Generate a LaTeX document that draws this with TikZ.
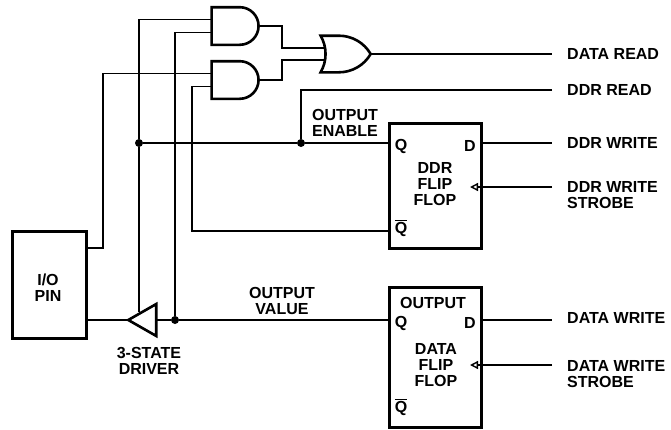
\documentclass[tikz,border=0pt]{standalone}
\usepackage{fontspec}
\setmainfont{Liberation Sans}[BoldFont={Liberation Sans Bold}]
\usetikzlibrary{arrows.meta,shapes.geometric,shapes.gates.logic.US}
\tikzset{
  wire/.style={line width=1.4pt, line join=miter},
  block/.style={draw, line width=3pt, rectangle, inner sep=0pt, outer sep=0pt},
  gate/.style={draw, line width=2.6pt, inner sep=0pt, outer sep=0pt, logic gate inputs=nn},
  dot/.style={circle, fill, inner sep=0pt, minimum size=8pt},
  txt/.style={font=\fontsize{16}{16}\selectfont\bfseries, align=center, inner sep=0pt},
  sig/.style={txt, align=left, anchor=west},
}
\begin{document}
\begin{tikzpicture}[x=1pt, y=-1pt]
  \useasboundingbox (0,0) rectangle (671,429);

  % Nodes
  \node[block, minimum width=74pt, minimum height=107pt] (pin) at (49,284.5) {};
  \node[txt] (pinlabel) at (48,288) {I/O\\PIN};
  \node[block, minimum width=92pt, minimum height=125pt] (ddrff) at (435,185.5) {};
  \node[block, minimum width=92pt, minimum height=140pt] (dataff) at (435,357) {};
  \node[gate, and gate US, minimum width=47pt, minimum height=34pt] (and1) at (233.5,26) {};
  \node[gate, and gate US, minimum width=47pt, minimum height=34pt] (and2) at (233.5,80) {};
  \node[gate, or gate US, minimum width=50pt, minimum height=34pt] (or1) at (342,54) {};
  \node[draw, line width=2.6pt, isosceles triangle, isosceles triangle stretches, shape border rotate=180,
    minimum width=32pt, minimum height=28pt, inner sep=0pt, outer sep=0pt] (driver) at (147,320) {};
  \node[dot] (dotA) at (139,143) {};
  \node[dot] (dotB) at (301,143) {};
  \node[dot] (dotC) at (175,320) {};

  % Labels
  \node[txt] (drvlabel) at (149,361) {3-STATE\\DRIVER};
  \node[txt] (enlabel) at (345,123) {OUTPUT\\ENABLE};
  \node[txt] (vallabel) at (282,301) {OUTPUT\\VALUE};
  \node[txt] (ddrname) at (435,184) {DDR\\FLIP\\FLOP};
  \node[txt] (dataname) at (436,365) {DATA\\FLIP\\FLOP};
  \node[txt] (outname) at (433,303) {OUTPUT};
  \node[txt] (ddrq) at (401,146) {Q};
  \node[txt] (ddrd) at (470,146) {D};
  \node[txt] (ddrqn) at (401,228) {$\overline{\mbox{Q}}$};
  \node[txt] (dataq) at (401,323) {Q};
  \node[txt] (datad) at (470,323) {D};
  \node[txt] (dataqn) at (401,407) {$\overline{\mbox{Q}}$};
  \node[sig] (dread) at (567,54) {DATA READ};
  \node[sig] (rread) at (567,90) {DDR READ};
  \node[sig] (rwrite) at (567,143) {DDR WRITE};
  \node[sig] (rstrobe) at (567,195) {DDR WRITE\\STROBE};
  \node[sig] (dwrite) at (567,318) {DATA WRITE};
  \node[sig] (dstrobe) at (567,374) {DATA WRITE\\STROBE};

  \coordinate (midA) at (282,54);
  \coordinate (railA) at (103,248);
  \coordinate (railB) at (192,231);
  \coordinate (railC) at (301,90);
  \coordinate (endR) at (552,0);
  \coordinate (enable) at (139,312);
  \coordinate (ddrclk) at (470,187);
  \coordinate (dataclk) at (470,365);

  % Edges
  \draw[wire] (and1.input 1) -| (dotA);
  \draw[wire] (and1.input 2) -| (dotC);
  \draw[wire] (and2.input 1) -| (railA) -- (pin.east |- railA);
  \draw[wire] (and2.input 2) -| (railB) -- (ddrff.west |- railB);
  \draw[wire] (and1.output) -| (midA |- or1.input 1) -- (or1.input 1);
  \draw[wire] (and2.output) -| (midA |- or1.input 2) -- (or1.input 2);
  \draw[wire] (or1.output) -- (endR |- or1.output);
  \draw[wire] (endR |- rread) -- (railC) -- (dotB);
  \draw[wire] (dotA) -- (dotB) -- (ddrff.west |- dotB);
  \draw[wire] (dotA) -- (enable);
  \draw[wire] (pin.east |- dotC) -- (driver.apex);
  \draw[wire] (driver.east |- dotC) -- (dotC) -- (dataff.west |- dotC);
  \draw[wire] (ddrff.east |- dotB) -- (endR |- dotB);
  \draw[wire] (dataff.east |- dotC) -- (endR |- dotC);
  \draw[wire, -{Triangle[open, length=8pt, width=8pt, line width=1.4pt]}] (endR |- ddrclk) -- (ddrclk);
  \draw[wire, -{Triangle[open, length=8pt, width=8pt, line width=1.4pt]}] (endR |- dataclk) -- (dataclk);
\end{tikzpicture}
\end{document}
